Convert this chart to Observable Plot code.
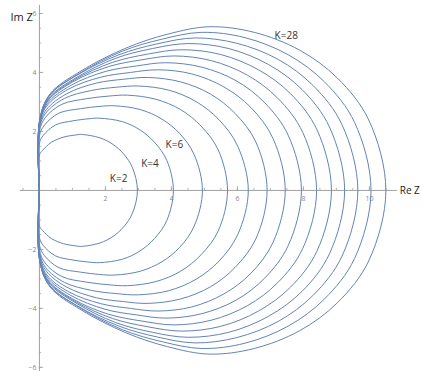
<!DOCTYPE html>
<html>
<head>
<meta charset="utf-8">
<script src="https://cdn.jsdelivr.net/npm/d3@7"></script>
<script src="https://cdn.jsdelivr.net/npm/@observablehq/plot@0.6"></script>
<style>
  html, body { margin: 0; padding: 0; background: #fff; }
  #chart { width: 422px; height: 371px; overflow: hidden; }
</style>
</head>
<body>
<div id="chart"></div>
<script>
// Parameter of each curve
const kValues = [2, 4, 6, 8, 10, 12, 14, 16, 18, 20, 22, 24, 26, 28];

// Upper half of each closed curve (Re Z)
const upperRe = [
  [0, 0.09, 0.36, 0.74, 1.10, 1.25, 1.84, 2.23, 2.55, 2.82, 2.97],
  [0, 0.12, 0.49, 1.02, 1.50, 1.81, 2.52, 3.05, 3.49, 3.86, 4.06],
  [0, 0.15, 0.59, 1.24, 1.83, 2.27, 3.06, 3.71, 4.25, 4.69, 4.94],
  [0, 0.17, 0.68, 1.43, 2.11, 2.67, 3.53, 4.28, 4.90, 5.42, 5.70],
  [0, 0.19, 0.76, 1.58, 2.34, 3.00, 3.92, 4.75, 5.44, 6.01, 6.33],
  [0, 0.21, 0.83, 1.73, 2.55, 3.30, 4.28, 5.18, 5.93, 6.56, 6.90],
  [0, 0.22, 0.89, 1.86, 2.76, 3.59, 4.62, 5.59, 6.41, 7.08, 7.45],
  [0, 0.24, 0.95, 1.99, 2.94, 3.84, 4.92, 5.96, 6.83, 7.54, 7.94],
  [0, 0.25, 1.01, 2.10, 3.11, 4.08, 5.21, 6.30, 7.22, 7.98, 8.40],
  [0, 0.27, 1.06, 2.21, 3.27, 4.31, 5.49, 6.64, 7.61, 8.41, 8.85],
  [0, 0.28, 1.11, 2.31, 3.42, 4.51, 5.74, 6.94, 7.96, 8.79, 9.25],
  [0, 0.29, 1.16, 2.41, 3.57, 4.72, 5.98, 7.24, 8.30, 9.17, 9.65],
  [0, 0.30, 1.21, 2.51, 3.72, 4.92, 6.23, 7.54, 8.64, 9.55, 10.05],
  [0, 0.32, 1.26, 2.63, 3.89, 5.15, 6.51, 7.88, 9.03, 9.98, 10.50]
];
// Upper half of each closed curve (Im Z)
const upperIm = [
  [1.20, 1.35, 1.63, 1.81, 1.88, 1.90, 1.78, 1.56, 1.24, 0.77, 0],
  [1.60, 1.87, 2.22, 2.36, 2.43, 2.45, 2.33, 2.05, 1.63, 1.02, 0],
  [1.85, 2.21, 2.62, 2.77, 2.85, 2.87, 2.74, 2.42, 1.93, 1.21, 0],
  [2.00, 2.46, 2.92, 3.11, 3.20, 3.23, 3.09, 2.74, 2.18, 1.37, 0],
  [2.10, 2.62, 3.12, 3.39, 3.50, 3.54, 3.40, 3.01, 2.40, 1.50, 0],
  [2.16, 2.74, 3.28, 3.64, 3.77, 3.83, 3.68, 3.27, 2.61, 1.64, 0],
  [2.20, 2.86, 3.44, 3.84, 4.00, 4.09, 3.95, 3.51, 2.81, 1.76, 0],
  [2.23, 2.95, 3.56, 4.03, 4.22, 4.33, 4.18, 3.72, 2.97, 1.87, 0],
  [2.26, 3.03, 3.68, 4.20, 4.43, 4.56, 4.40, 3.91, 3.13, 1.97, 0],
  [2.28, 3.08, 3.75, 4.34, 4.62, 4.77, 4.61, 4.09, 3.28, 2.06, 0],
  [2.30, 3.13, 3.82, 4.48, 4.81, 4.98, 4.81, 4.27, 3.42, 2.15, 0],
  [2.31, 3.20, 3.92, 4.60, 4.97, 5.17, 4.99, 4.44, 3.55, 2.23, 0],
  [2.33, 3.22, 3.97, 4.72, 5.13, 5.36, 5.18, 4.60, 3.68, 2.31, 0],
  [2.34, 3.27, 4.05, 4.83, 5.30, 5.55, 5.36, 4.76, 3.81, 2.39, 0]
];

// Curve annotations
const labelText = ["K=2", "K=4", "K=6", "K=28"];
const labelRe = [2.40, 3.35, 4.09, 7.48];
const labelIm = [0.40, 0.90, 1.55, 5.25];

// Axis ticks
const xTickLabels = [2, 4, 6, 8, 10];
const yTickLabels = [-6, -4, -2, 2, 4, 6];

// Build closed curves: along the imaginary axis, over the top, back underneath
const curveData = [];
kValues.forEach((k, i) => {
  const re = upperRe[i], im = upperIm[i];
  const n = re.length;
  let order = 0;
  curveData.push({k, order: order++, re: 0, im: 0});
  for (let j = 0; j < n; j++) curveData.push({k, order: order++, re: re[j], im: im[j]});
  for (let j = n - 2; j >= 0; j--) curveData.push({k, order: order++, re: re[j], im: -im[j]});
  curveData.push({k, order: order++, re: 0, im: 0});
});

const minorX = d3.range(-0.5, 10.81, 0.5).filter(v => Math.abs(v) > 1e-9);
const minorY = d3.range(-6, 6.01, 0.5).filter(v => Math.abs(v) > 1e-9);

const axisColor = "#a0a0a0";
const font = "'Open Sans', 'DejaVu Sans', sans-serif";

const chart = Plot.plot({
  width: 422,
  height: 371,
  margin: 0,
  style: {fontFamily: font, background: "#fff"},
  x: {domain: [-1.18, 11.61], axis: null},
  y: {domain: [-6.14, 6.44], axis: null},
  marks: [
    // axes
    Plot.ruleY([0], {x1: -0.58, x2: 10.85, stroke: axisColor, strokeWidth: 1}),
    Plot.ruleX([0], {y1: -6.3, y2: 6.27, stroke: axisColor, strokeWidth: 1}),
    // minor and major ticks
    Plot.ruleX(minorX, {x: d => d, y1: 0, y2: 0.07, stroke: axisColor, strokeWidth: 0.8}),
    Plot.ruleX(xTickLabels, {x: d => d, y1: 0, y2: 0.13, stroke: axisColor, strokeWidth: 0.8}),
    Plot.ruleY(minorY, {y: d => d, x1: 0, x2: 0.07, stroke: axisColor, strokeWidth: 0.8}),
    Plot.ruleY(yTickLabels, {y: d => d, x1: 0, x2: 0.13, stroke: axisColor, strokeWidth: 0.8}),
    // tick labels
    Plot.text(xTickLabels, {x: d => d, y: 0, dy: 8, text: d => String(d), fontSize: 7, fill: "#8a8a8a"}),
    Plot.text(yTickLabels, {x: 0, y: d => d, dx: -3, text: d => String(d).replace("-", "\u2212"), textAnchor: "end", fontSize: 7, fill: "#8a8a8a"}),
    // curves
    Plot.line(curveData, {x: "re", y: "im", z: "k", sort: "order", curve: "catmull-rom", stroke: "#6384b6", strokeWidth: 1}),
    // annotations
    Plot.text(labelText, {x: (d, i) => labelRe[i], y: (d, i) => labelIm[i], text: d => d, fontSize: 10, fill: "#333"}),
    // axis names
    Plot.text(["Im Z"], {x: -0.2, y: 5.85, text: d => d, textAnchor: "end", fontSize: 11, fill: "#222"}),
    Plot.text(["Re Z"], {x: 10.92, y: 0, text: d => d, textAnchor: "start", fontSize: 10, fill: "#222"})
  ]
});
document.getElementById("chart").appendChild(chart);
</script>
</body>
</html>
